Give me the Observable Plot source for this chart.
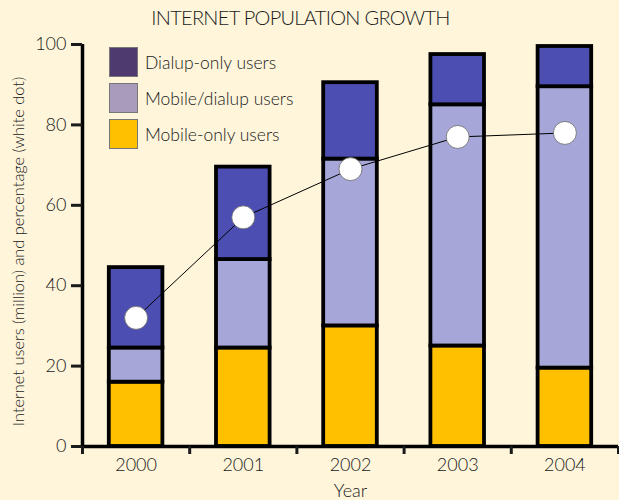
<!DOCTYPE html>
<html>
<head>
<meta charset="utf-8">
<script src="https://cdn.jsdelivr.net/npm/d3@7"></script>
<script src="https://cdn.jsdelivr.net/npm/@observablehq/plot@0.6"></script>
<style>
  html, body { margin: 0; padding: 0; background: #fef5da; }
  #wrap { position: relative; width: 619px; height: 500px; background: #fef5da; font-family: Lato, "Open Sans", sans-serif; font-weight: 300; color: #1a1a1a; }
  #title { height: 26px; padding-top: 4px; box-sizing: border-box; line-height: 26px; text-align: center; font-size: 20px; letter-spacing: -0.7px; padding-right: 18px; }
  #legend { position: absolute; left: 109px; top: 44px; }
  .row { display: flex; align-items: center; height: 36px; }
  .sw { width: 27px; height: 28px; border: 1px solid #777; box-sizing: content-box; margin-right: 7px; }
  .lab { font-size: 17.5px; }
  svg { display: block; }
</style>
</head>
<body>
<div id="wrap">
  <div id="title">INTERNET POPULATION GROWTH</div>
  <div id="chart"></div>
  <div id="legend"></div>
</div>
<script>
const years = [2000, 2001, 2002, 2003, 2004];
const seriesNames = ["Mobile-only users", "Mobile/dialup users", "Dialup-only users"];
const mobileOnly = [16, 24.5, 30, 25, 19.5];
const mobileDialup = [8.5, 22, 41.5, 60, 70];
const dialupOnly = [20, 23, 19, 12.5, 10];
const percentage = [32, 57, 69, 77, 78];
const barColors = ["#ffc000", "#a6a6d8", "#4c4fb1"];
const legendColors = ["#ffc000", "#a89bbb", "#4f3a70"];
const yTicks = [0, 20, 40, 60, 80, 100];
const yLabel = "Internet users (million) and percentage (white dot)";

const seriesValues = [mobileOnly, mobileDialup, dialupOnly];
const stacked = [];
years.forEach((yr, i) => {
  let base = 0;
  seriesValues.forEach((vals, s) => {
    stacked.push({year: yr, series: seriesNames[s], y1: base, y2: base + vals[i]});
    base += vals[i];
  });
});
const dots = years.map((yr, i) => ({year: yr, pct: percentage[i]}));
const xDomain = [years[0] - 0.5, years[years.length - 1] + 0.5];
const bounds = years.map(y => y - 0.5).concat([years[years.length - 1] + 0.5]);

const chart = Plot.plot({
  width: 619,
  height: 474,
  marginTop: 18,
  marginBottom: 54,
  marginLeft: 82,
  marginRight: 1,
  style: {background: "transparent", fontFamily: "Lato, 'Open Sans', sans-serif", fontWeight: 300, color: "#1a1a1a"},
  x: {domain: xDomain},
  y: {domain: [0, 100]},
  color: {domain: seriesNames, range: barColors},
  marks: [
    Plot.rect(stacked, {x1: d => d.year - 0.25, x2: d => d.year + 0.25, y1: "y1", y2: "y2", fill: "series", stroke: "black", strokeWidth: 3.8}),
    Plot.line(dots, {x: "year", y: "pct", stroke: "black", strokeWidth: 1}),
    Plot.dot(dots, {x: "year", y: "pct", r: 11.5, fill: "white", stroke: "#666", strokeWidth: 0.8}),
    Plot.ruleY([0], {x1: xDomain[0], x2: xDomain[1], stroke: "black", strokeWidth: 3.5}),
    Plot.ruleX([xDomain[0]], {y1: 0, y2: 100, stroke: "black", strokeWidth: 3.5}),
    Plot.axisX({ticks: bounds, tickSize: 8, tickFormat: () => "", strokeWidth: 3, label: null}),
    Plot.axisX({ticks: years, tickSize: 0, tickPadding: 12, tickFormat: d => String(d), fontSize: 18, label: "Year", labelAnchor: "center", labelArrow: "none", labelOffset: 50}),
    Plot.axisY({ticks: yTicks, tickSize: 11, tickPadding: 5, strokeWidth: 3, fontSize: 18, label: null}),
    Plot.text([yLabel], {frameAnchor: "left", textAnchor: "middle", rotate: -90, dx: -64, dy: 6, fontSize: 16.4, fill: "#1a1a1a", text: d => d})
  ]
});
document.getElementById("chart").appendChild(chart);

const legend = document.getElementById("legend");
[2, 1, 0].forEach(s => {
  const row = document.createElement("div");
  row.className = "row";
  const sw = document.createElement("div");
  sw.className = "sw";
  sw.style.background = legendColors[s];
  const lab = document.createElement("div");
  lab.className = "lab";
  lab.textContent = seriesNames[s];
  row.appendChild(sw);
  row.appendChild(lab);
  legend.appendChild(row);
});
</script>
</body>
</html>
